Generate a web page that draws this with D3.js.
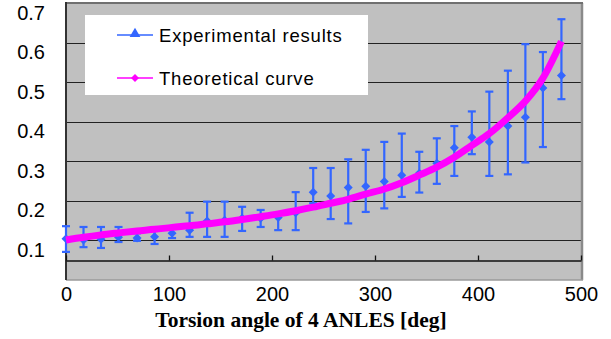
<!DOCTYPE html>
<html>
<head>
<meta charset="utf-8">
<script src="https://cdn.jsdelivr.net/npm/d3@7"></script>
<style>
  body { margin: 0; background: #fff; }
  svg { display: block; }
</style>
</head>
<body>
<svg id="chart" width="611" height="339"></svg>
<script>
// experimental results (torsion angle in deg, mean value, error bar top, error bar bottom)
const expAngles = [0, 17, 34, 51, 69, 86, 103, 120, 137, 154, 171, 189, 206, 223, 240,
  257, 274, 291, 309, 326, 343, 360, 377, 394, 411, 429, 446, 463, 481];
const expValues = [0.104, 0.101, 0.103, 0.108, 0.106, 0.109, 0.118, 0.126, 0.149, 0.151,
  0.156, 0.156, 0.158, 0.170, 0.222, 0.212, 0.234, 0.237, 0.249, 0.265, 0.270, 0.295,
  0.334, 0.361, 0.349, 0.389, 0.411, 0.485, 0.517];
const expHigh = [0.136, 0.134, 0.134, 0.134, 0.118, 0.124, 0.129, 0.170, 0.198, 0.198,
  0.185, 0.177, 0.167, 0.222, 0.283, 0.283, 0.305, 0.329, 0.349, 0.370, 0.324, 0.358,
  0.389, 0.426, 0.476, 0.529, 0.596, 0.576, 0.659];
const expLow = [0.071, 0.083, 0.081, 0.096, 0.099, 0.091, 0.106, 0.109, 0.109, 0.109,
  0.124, 0.134, 0.126, 0.126, 0.194, 0.154, 0.143, 0.172, 0.181, 0.210, 0.221, 0.243,
  0.263, 0.318, 0.263, 0.267, 0.297, 0.336, 0.457];

// theoretical curve
const theoryAngles = [0, 17, 34, 51, 69, 86, 103, 120, 137, 154, 171, 189, 206, 223, 240,
  257, 274, 291, 309, 326, 343, 360, 377, 394, 411, 429, 446, 463, 481];
const theoryValues = [0.101, 0.108, 0.114, 0.119, 0.124, 0.128, 0.133, 0.137, 0.142, 0.147,
  0.153, 0.160, 0.167, 0.175, 0.184, 0.194, 0.204, 0.217, 0.230, 0.246, 0.265, 0.285,
  0.310, 0.340, 0.370, 0.410, 0.452, 0.510, 0.603];

const xTicks = [0, 100, 200, 300, 400, 500];
const yTicks = [0.1, 0.2, 0.3, 0.4, 0.5, 0.6, 0.7];
const seriesNames = ['Experimental results', 'Theoretical curve'];
const xTitle = 'Torsion angle of 4 ANLES [deg]';

const plot = { left: 66, right: 581, top: 3, bottom: 280 };
const blue = '#3366ff';
const magenta = '#ff00ff';

const svg = d3.select('#chart');

const xScale = d3.scaleLinear()
  .domain([0, 500])
  .range([plot.left, plot.right]);

const yScale = d3.scaleLinear()
  .domain([0, 0.7])
  .range([plot.bottom, plot.top]);

// plot background
svg.append('rect')
  .attr('x', plot.left)
  .attr('y', plot.top)
  .attr('width', plot.right - plot.left)
  .attr('height', plot.bottom - plot.top)
  .attr('fill', '#c0c0c0');

// horizontal gridlines
svg.append('g')
  .selectAll('line')
  .data(yTicks.slice(0, -1))
  .join('line')
  .attr('x1', plot.left)
  .attr('x2', plot.right)
  .attr('y1', d => Math.round(yScale(d)) + 0.5)
  .attr('y2', d => Math.round(yScale(d)) + 0.5)
  .attr('stroke', '#222')
  .attr('stroke-width', 1.2);

// frame: light right/bottom, dark top/left
svg.append('line')
  .attr('x1', plot.right + 1).attr('x2', plot.right + 1)
  .attr('y1', plot.top).attr('y2', plot.bottom)
  .attr('stroke', '#8a8a8a').attr('stroke-width', 2.5);
svg.append('line')
  .attr('x1', plot.left).attr('x2', plot.right + 2)
  .attr('y1', plot.bottom).attr('y2', plot.bottom)
  .attr('stroke', '#9a9a9a').attr('stroke-width', 1.5);
svg.append('line')
  .attr('x1', plot.left).attr('x2', plot.right + 2)
  .attr('y1', plot.top).attr('y2', plot.top)
  .attr('stroke', '#707070').attr('stroke-width', 2);
svg.append('line')
  .attr('x1', plot.left).attr('x2', plot.left)
  .attr('y1', plot.top - 1).attr('y2', plot.bottom)
  .attr('stroke', '#333').attr('stroke-width', 2);

// x axis (crosses at 0.05, ticks pointing up)
const xAxis = d3.axisBottom(xScale)
  .tickValues(xTicks)
  .tickSizeInner(-5)
  .tickSizeOuter(0)
  .tickPadding(26.5);

const gx = svg.append('g')
  .attr('transform', `translate(0, ${Math.round(yScale(0.05)) + 0.5})`)
  .call(xAxis);
gx.select('.domain').attr('stroke', '#111').attr('stroke-width', 1.3);
gx.selectAll('.tick line').attr('stroke', '#111').attr('stroke-width', 1.3);
gx.selectAll('.tick text')
  .attr('fill', '#000')
  .style('font', '20px "Liberation Sans", Arial, sans-serif');

// y tick labels (sit a little below their gridlines)
svg.append('g')
  .selectAll('text')
  .data(yTicks)
  .join('text')
  .attr('x', 45)
  .attr('y', d => yScale(d) + 9.5)
  .attr('text-anchor', 'end')
  .attr('dominant-baseline', 'central')
  .style('font', '20px "Liberation Sans", Arial, sans-serif')
  .text(d => d3.format('.1f')(d));

// x axis title
svg.append('text')
  .attr('x', 301)
  .attr('y', 327)
  .attr('text-anchor', 'middle')
  .style('font', 'bold 21.5px "Liberation Serif", "Times New Roman", serif')
  .text(xTitle);

// error bars
const expData = expAngles.map((a, i) => ({
  x: a, y: expValues[i], hi: expHigh[i], lo: expLow[i]
}));

const bars = svg.append('g')
  .attr('stroke', blue)
  .attr('stroke-width', 2.2)
  .selectAll('g')
  .data(expData)
  .join('g');

bars.append('line')
  .attr('x1', d => xScale(d.x)).attr('x2', d => xScale(d.x))
  .attr('y1', d => yScale(d.hi)).attr('y2', d => yScale(d.lo));
bars.append('line')
  .attr('x1', d => xScale(d.x) - 4).attr('x2', d => xScale(d.x) + 4)
  .attr('y1', d => yScale(d.hi)).attr('y2', d => yScale(d.hi));
bars.append('line')
  .attr('x1', d => xScale(d.x) - 4).attr('x2', d => xScale(d.x) + 4)
  .attr('y1', d => yScale(d.lo)).attr('y2', d => yScale(d.lo));

const diamond = 'M0,-4.5L4.5,0L0,4.5L-4.5,0Z';

svg.append('g')
  .selectAll('path')
  .data(expData)
  .join('path')
  .attr('d', diamond)
  .attr('transform', d => `translate(${xScale(d.x)}, ${yScale(d.y)})`)
  .attr('fill', blue);

// theoretical curve
const line = d3.line()
  .x((d, i) => xScale(theoryAngles[i]))
  .y(d => yScale(d))
  .curve(d3.curveMonotoneX);

svg.append('path')
  .datum(theoryValues)
  .attr('d', line)
  .attr('fill', 'none')
  .attr('stroke', magenta)
  .attr('stroke-width', 7)
  .attr('stroke-linejoin', 'round');

// legend
const legend = svg.append('g');
legend.append('rect')
  .attr('x', 85).attr('y', 15)
  .attr('width', 283).attr('height', 80)
  .attr('fill', '#fff');

const legendRows = [
  { name: seriesNames[0], color: blue, y: 35, shape: d3.symbolTriangle, size: 50 },
  { name: seriesNames[1], color: magenta, y: 78, shape: null }
];

const rows = legend.selectAll('g.row')
  .data(legendRows)
  .join('g')
  .attr('class', 'row')
  .attr('transform', d => `translate(0, ${d.y})`);

rows.append('line')
  .attr('x1', 117).attr('x2', 153)
  .attr('y1', 0).attr('y2', 0)
  .attr('stroke', d => d.color)
  .attr('stroke-width', 1.5);

rows.append('path')
  .attr('d', d => d.shape ? d3.symbol(d.shape, d.size)() : 'M0,-4L4,0L0,4L-4,0Z')
  .attr('transform', d => d.shape ? 'translate(135, -1)' : 'translate(135, 0)')
  .attr('fill', d => d.color);

rows.append('text')
  .attr('x', 159)
  .attr('y', 0)
  .attr('dominant-baseline', 'central')
  .style('font', '18.5px "Liberation Sans", Arial, sans-serif')
  .style('letter-spacing', '0.8px')
  .text(d => d.name);
</script>
</body>
</html>
